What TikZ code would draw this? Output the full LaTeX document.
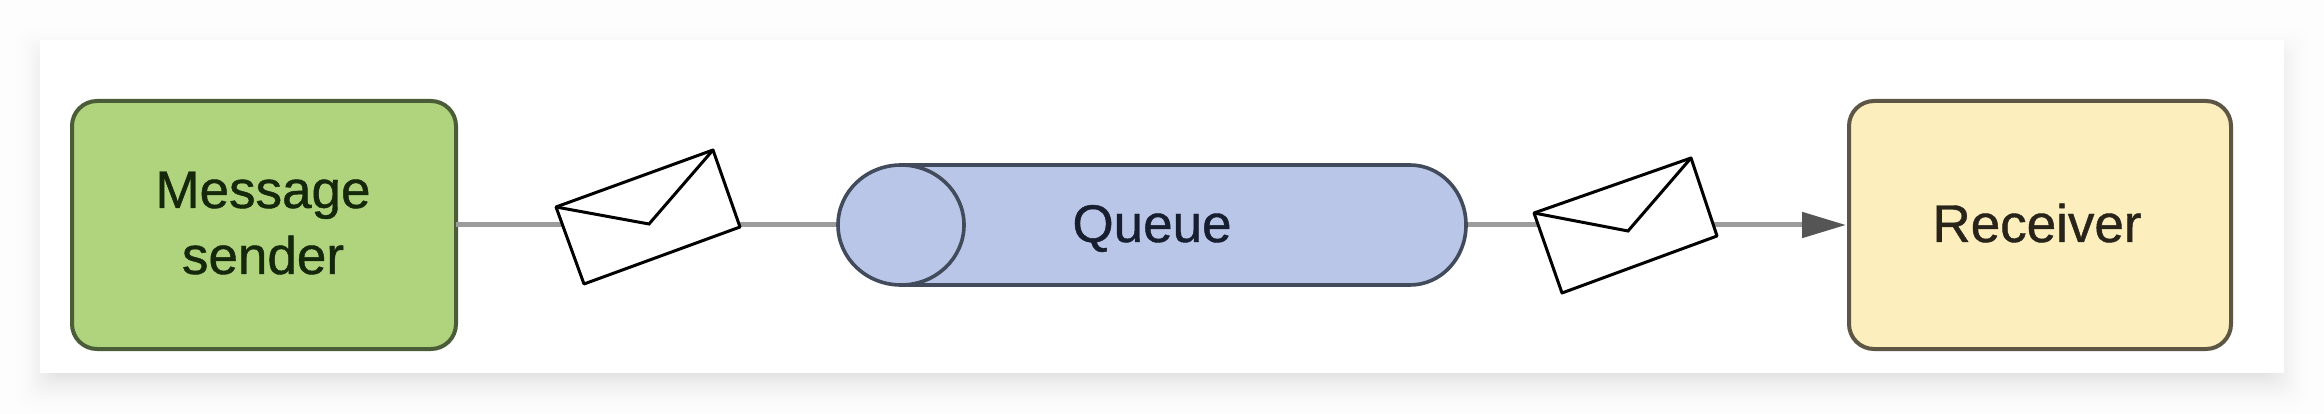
\documentclass[tikz,border=0pt]{standalone}
\usepackage{fontspec}
\setmainfont{Liberation Sans}
\newfontfamily\labelface[FakeBold=0.8]{Liberation Sans}
\usetikzlibrary{arrows.meta,shapes.geometric}
\definecolor{pagebg}{HTML}{FDFDFD}
\definecolor{senderfill}{HTML}{AFD47D}
\definecolor{senderedge}{HTML}{4A5C38}
\definecolor{senderink}{HTML}{16280C}
\definecolor{queuefill}{HTML}{B9C6E7}
\definecolor{queueedge}{HTML}{414B5C}
\definecolor{queueink}{HTML}{161E30}
\definecolor{receiverfill}{HTML}{FDEEBD}
\definecolor{receiveredge}{HTML}{5E5644}
\definecolor{receiverink}{HTML}{28241A}
\definecolor{wirecolor}{HTML}{9C9C9C}
\definecolor{tipcolor}{HTML}{555555}
\tikzset{
  x=1pt,y=-1pt,
  labelfont/.style={font=\labelface\fontsize{53}{66}\selectfont,align=center},
  boxnode/.style={rectangle,rounded corners=25pt,minimum height=248pt,
    inner sep=0pt,outer sep=0pt,line width=4pt,labelfont},
  wire/.style={draw=wirecolor,line width=5pt},
  envelope/.style={draw=black,fill=white,line width=3pt,line join=round},
  flap/.style={draw=black,line width=3pt,line join=miter},
  queueline/.style={draw=queueedge,fill=queuefill,line width=3.6pt},
}
\begin{document}
\begin{tikzpicture}
\useasboundingbox (0,0) rectangle (2324,414);
\clip (0,0) rectangle (2324,414);
\fill[pagebg] (0,0) rectangle (2324,414);
% soft shadow round the panel
\foreach \d in {30,28,...,-12}{
  \pgfmathsetmacro{\k}{11*((30-\d)/42)^2}
  \fill[black!\k!pagebg,rounded corners=14pt]
    (40-\d,52-\d) rectangle (2284+\d,385+\d);
}
\fill[white] (40,40) rectangle (2284,373);
% nodes
\node[boxnode,minimum width=384pt,draw=senderedge,fill=senderfill] (sender) at (264,225) {};
\node[boxnode,minimum width=382pt,draw=receiveredge,fill=receiverfill] (receiver) at (2040,225) {};
\node[minimum width=628pt,minimum height=121pt,inner sep=0pt,outer sep=0pt] (queuebox) at (1152,225) {};
% connectors
\draw[wire] (sender.east) -- (queuebox.west);
\draw[wire,-{Triangle[length=44pt,width=25pt,color=tipcolor]},shorten >=3pt] (queuebox.east) -- (receiver.west);
% queue
\draw[queueline] (901,165) -- (1410,165)
  arc[start angle=90,end angle=-90,x radius=56pt,y radius=60pt] -- (901,285) -- cycle;
\draw[queueline] (901,225) ellipse [x radius=63pt,y radius=60pt];
% labels
\node[labelfont,text=senderink] (sendertext) at (263,223) {Message\\sender};
\node[labelfont,text=queueink,anchor=base] (queue) at (1152,242) {Queue};
\node[labelfont,text=receiverink,anchor=base] (receivertext) at (2037,242) {Receiver};
% envelopes
\draw[envelope] (556,207) -- (713,150) -- (740,227) -- (584,284) -- cycle;
\draw[flap] (556,207) -- (649,224) -- (713,150);
\draw[envelope] (1534,213) -- (1691,158) -- (1717,236) -- (1562,293) -- cycle;
\draw[flap] (1534,213) -- (1628,231) -- (1691,158);
\end{tikzpicture}
\end{document}
